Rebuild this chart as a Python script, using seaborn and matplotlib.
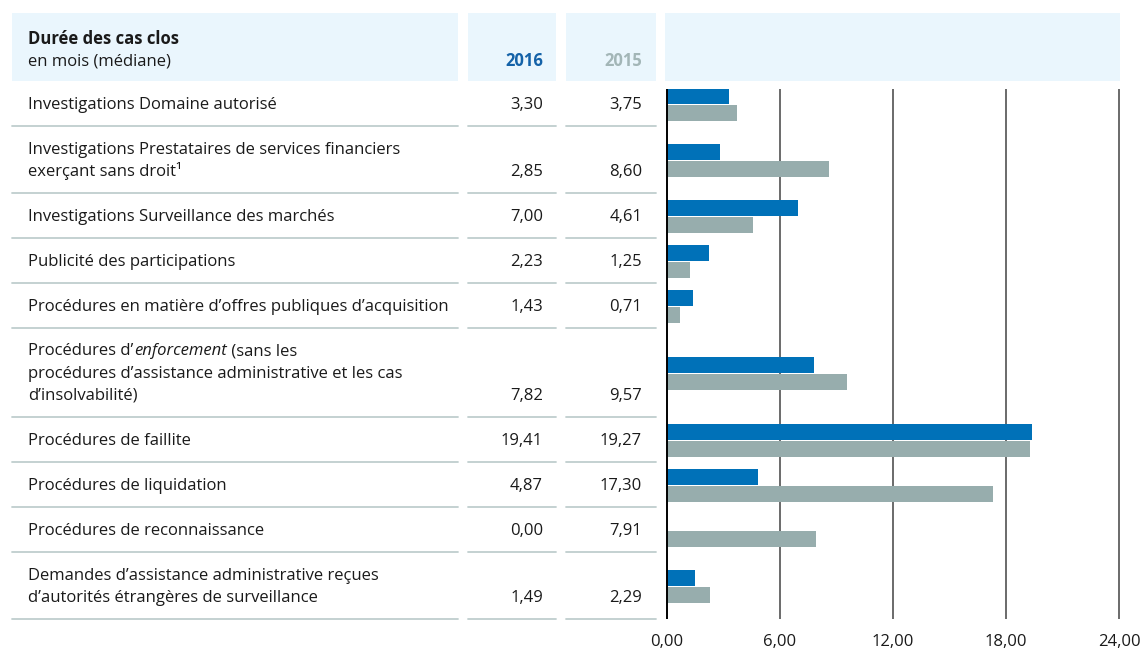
import numpy as np
import pandas as pd
import matplotlib
matplotlib.use("Agg")
import matplotlib.pyplot as plt
from matplotlib.patches import Rectangle
from matplotlib.lines import Line2D
import seaborn as sns

# ---------------- data ----------------
title = "Durée des cas clos"
subtitle = "en mois (médiane)"
years = ["2016", "2015"]
categories = [
    "Investigations Domaine autorisé",
    "Investigations Prestataires de services financiers\nexerçant sans droit¹",
    "Investigations Surveillance des marchés",
    "Publicité des participations",
    "Procédures en matière d’offres publiques d’acquisition",
    "Procédures d’enforcement (sans les\nprocédures d’assistance administrative et les cas\nd’insolvabilité)",
    "Procédures de faillite",
    "Procédures de liquidation",
    "Procédures de reconnaissance",
    "Demandes d’assistance administrative reçues\nd’autorités étrangères de surveillance",
]
italic_word = "enforcement"
values_2016 = [3.30, 2.85, 7.00, 2.23, 1.43, 7.82, 19.41, 4.87, 0.00, 1.49]
values_2015 = [3.75, 8.60, 4.61, 1.25, 0.71, 9.57, 19.27, 17.30, 7.91, 2.29]
x_ticks = [0, 6, 12, 18, 24]

# ---------------- style ----------------
W, H, DPI = 1143, 655, 100
sns.set_theme(style="white")
plt.rcParams["font.family"] = ["Open Sans", "DejaVu Sans"]
FS = 12
BLUE = "#0071b8"
BLUE_DARK = "#1462a8"
GRAY = "#97adad"
GRAY_TXT = "#a3b6b7"
HEAD_BG = "#eaf6fd"
SEP = "#bfcece"
TXT = "#1a1a1a"
GRID = "#6a6a6a"

fig = plt.figure(figsize=(W / DPI, H / DPI), dpi=DPI)
fig.patch.set_facecolor("white")


def fx(x):
    return x / W


def fy(y):
    return 1 - y / H


def fmt(v):
    return f"{v:.2f}".replace(".", ",")


# column geometry (pixels)
lab_x0, lab_x1 = 12, 458
c16_x0, c16_x1 = 468, 556
c15_x0, c15_x1 = 566, 656
ch_x0, ch_x1 = 665, 1120
head_top, head_bot = 13, 81
text_x = 28
v16_x, v15_x = 543, 642

n_lines = np.array([c.count("\n") + 1 for c in categories])
heights = 23 + 22 * n_lines
bottoms = head_bot + np.cumsum(heights)
tops = bottoms - heights
centers = (tops + bottoms) / 2 + 1

# header background boxes
for x0, x1 in [(lab_x0, lab_x1), (c16_x0, c16_x1), (c15_x0, c15_x1), (ch_x0, ch_x1)]:
    fig.add_artist(Rectangle((fx(x0), fy(head_bot)), (x1 - x0) / W, (head_bot - head_top) / H,
                             transform=fig.transFigure, facecolor=HEAD_BG, edgecolor="none", zorder=0))

fig.text(fx(text_x), fy(44), title, fontsize=FS, fontweight="bold", color=TXT, va="baseline", ha="left")
fig.text(fx(text_x), fy(66), subtitle, fontsize=FS, color=TXT, va="baseline", ha="left")
fig.text(fx(v16_x), fy(66), years[0], fontsize=FS, fontweight="bold", color=BLUE_DARK, va="baseline", ha="right")
fig.text(fx(v15_x), fy(66), years[1], fontsize=FS, fontweight="bold", color=GRAY_TXT, va="baseline", ha="right")

renderer = fig.canvas.get_renderer()


def draw_line(x, y, s):
    if italic_word in s:
        pre, post = s.split(italic_word, 1)
        t1 = fig.text(fx(x), fy(y), pre, fontsize=FS, color=TXT, va="baseline", ha="left")
        x2 = x + t1.get_window_extent(renderer).width + 1
        t2 = fig.text(fx(x2), fy(y), italic_word, fontsize=FS, color=TXT, style="italic",
                      va="baseline", ha="left")
        x3 = x2 + t2.get_window_extent(renderer).width
        fig.text(fx(x3), fy(y), post, fontsize=FS, color=TXT, va="baseline", ha="left")
    else:
        fig.text(fx(x), fy(y), s, fontsize=FS, color=TXT, va="baseline", ha="left")


for i, cat in enumerate(categories):
    lines = cat.split("\n")
    base = bottoms[i] - 17
    for k, ln in enumerate(lines):
        draw_line(text_x, base - 22.5 * (len(lines) - 1 - k), ln)
    fig.text(fx(v16_x), fy(base), fmt(values_2016[i]), fontsize=FS, color=TXT, va="baseline", ha="right")
    fig.text(fx(v15_x), fy(base), fmt(values_2015[i]), fontsize=FS, color=TXT, va="baseline", ha="right")
    for x0, x1 in [(lab_x0, lab_x1), (c16_x0, c16_x1), (c15_x0, c15_x1)]:
        fig.add_artist(Line2D([fx(x0), fx(x1)], [fy(bottoms[i]), fy(bottoms[i])],
                              transform=fig.transFigure, color=SEP, lw=1.3))

# ---------------- bar chart ----------------
px0, px24 = 666.5, 1119
ppu = (px24 - px0) / 24
pad_u = 0.08
ax_top = 89
ax_bot = bottoms[-1]
ax = fig.add_axes([fx(px0 - pad_u * ppu), fy(ax_bot), (px24 - px0 + 2 * pad_u * ppu) / W, (ax_bot - ax_top) / H])
ax.set_facecolor("none")

df = pd.DataFrame({
    "pos": np.concatenate([centers, centers]),
    "val": values_2016 + values_2015,
    "year": [years[0]] * len(categories) + [years[1]] * len(categories),
})
sns.barplot(data=df, x="val", y="pos", hue="year", hue_order=years, orient="h",
            native_scale=True, palette=[BLUE, GRAY], saturation=1, width=34 / 45,
            gap=0.06, legend=False, linewidth=0, ax=ax, zorder=2)

ax.set_xlim(-pad_u, 24 + pad_u)
ax.set_ylim(ax_bot, ax_top)
ax.set_yticks([])
ax.set_xlabel("")
ax.set_ylabel("")
ax.set_xticks(x_ticks)
ax.set_xticklabels([fmt(t) for t in x_ticks])
ax.tick_params(axis="x", length=0, pad=11, labelsize=FS, colors=TXT)
for t in x_ticks[1:]:
    ax.axvline(t, color=GRID, lw=1.4, zorder=1)
ax.axvline(0, color="black", lw=1.4, zorder=3)
for sp in ax.spines.values():
    sp.set_visible(False)

fig.savefig("out.png", dpi=DPI, facecolor="white")
